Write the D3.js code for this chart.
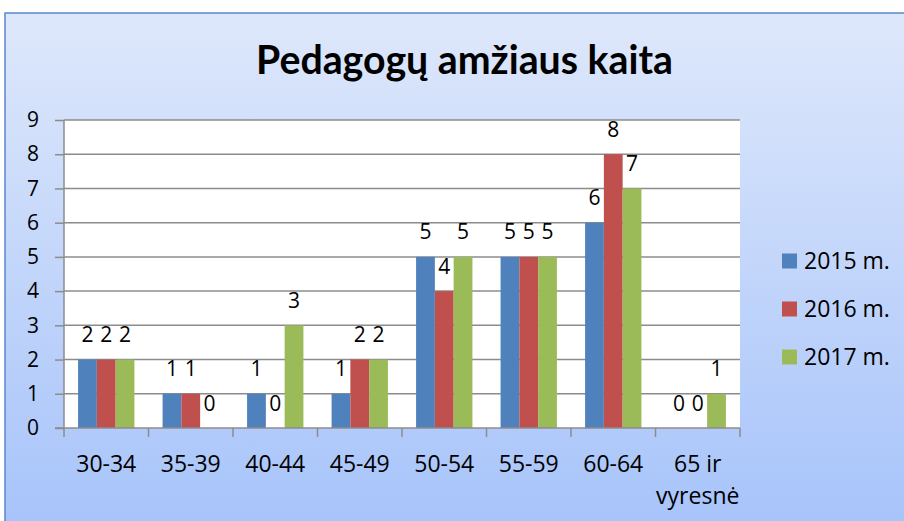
<!DOCTYPE html>
<html><head><meta charset="utf-8">
<script src="https://cdn.jsdelivr.net/npm/d3@7"></script>
<style>html,body{margin:0;padding:0;background:#fff;}svg{display:block;font-family:"Open Sans",Lato,sans-serif;}</style>
</head><body>
<script>
const title = "Pedagogų amžiaus kaita";
const categories = ["30-34","35-39","40-44","45-49","50-54","55-59","60-64","65 ir vyresnė"];
const seriesNames = ["2015 m.","2016 m.","2017 m."];
const values2015 = [2,1,1,1,5,5,6,0];
const values2016 = [2,1,0,2,4,5,8,0];
const values2017 = [2,0,3,2,5,5,7,1];
const seriesColors = ["#4F81BD","#C0504D","#9BBB59"];
const yTicks = [0,1,2,3,4,5,6,7,8,9];

const W = 904, H = 521;
const svg = d3.select("body").append("svg").attr("width", W).attr("height", H);
const defs = svg.append("defs");
const grad = defs.append("linearGradient").attr("id","bg").attr("x1",0).attr("y1",0).attr("x2",0).attr("y2",1);
grad.append("stop").attr("offset","0%").attr("stop-color","#DEE8FB");
grad.append("stop").attr("offset","100%").attr("stop-color","#A6C3FA");
svg.append("rect").attr("x",5).attr("y",13).attr("width",W).attr("height",H)
  .attr("fill","url(#bg)").attr("stroke","#5B87CC").attr("stroke-width",1.5);

const plot = {l:64, t:120, r:740, b:428};
const x0 = d3.scaleBand().domain(categories).range([plot.l, plot.r]).paddingInner(0).paddingOuter(0);
// Excel gap width 150%: bars fill 3/(3+1.5) of band
const barW = x0.bandwidth()/4.5;
const y = d3.scaleLinear().domain([0,9]).range([plot.b, plot.t]);

svg.append("rect").attr("x",plot.l).attr("y",plot.t).attr("width",plot.r-plot.l).attr("height",plot.b-plot.t).attr("fill","#fff");

// gridlines
svg.append("g").selectAll("line").data(yTicks.filter(d=>d>0)).join("line")
  .attr("x1",plot.l).attr("x2",plot.r).attr("y1",d=>y(d)).attr("y2",d=>y(d))
  .attr("stroke","#8C8C8C").attr("stroke-width",1.5);

const data = [values2015, values2016, values2017];
const gBars = svg.append("g");
data.forEach((vals, si) => {
  categories.forEach((c, ci) => {
    const bx = x0(c) + barW*0.75 + si*barW;
    const v = vals[ci];
    gBars.append("rect").attr("x",bx).attr("y",y(v)).attr("width",barW).attr("height",y(0)-y(v))
      .attr("fill",seriesColors[si]);
    gBars.append("text").attr("x",bx+barW/2).attr("y",y(v)-17.5).attr("text-anchor","middle")
      .attr("font-size",21).attr("fill","#000").text(v);
  });
});

// y axis
const yAxis = d3.axisLeft(y).tickValues(yTicks).tickSize(9).tickPadding(16).tickFormat(d3.format("d"));
const gy = svg.append("g").attr("transform",`translate(${plot.l},0)`).call(yAxis);
gy.select(".domain").attr("stroke","#8C8C8C").attr("stroke-width",1.5).attr("d",`M0,${plot.t}V${plot.b}`);
gy.selectAll(".tick line").attr("stroke","#8C8C8C").attr("stroke-width",1.5);
gy.selectAll(".tick text").attr("font-size",21).attr("font-family","Open Sans").attr("fill","#000");

// x axis
svg.append("line").attr("x1",plot.l-9).attr("x2",plot.r).attr("y1",plot.b).attr("y2",plot.b).attr("stroke","#8C8C8C").attr("stroke-width",1.5);
const bounds = categories.map(c=>x0(c)).concat([plot.r]);
svg.append("g").selectAll("line").data(bounds).join("line")
  .attr("x1",d=>d).attr("x2",d=>d).attr("y1",plot.b).attr("y2",plot.b+9).attr("stroke","#8C8C8C").attr("stroke-width",1.5);
const gx = svg.append("g");
categories.forEach(c => {
  const words = c === "65 ir vyresnė" ? ["65 ir","vyresnė"] : [c];
  words.forEach((w,i)=>{
    gx.append("text").attr("x",x0(c)+x0.bandwidth()/2).attr("y",472+i*32).attr("text-anchor","middle")
      .attr("font-size",23).text(w);
  });
});

// title
const t = svg.append("text").attr("x",(256+673)/2).attr("y",74).attr("text-anchor","middle")
  .attr("font-family","Lato").attr("font-size",35).attr("font-weight","bold").text(title);
const tw = t.node().getComputedTextLength();
t.attr("font-size", 35*417/tw);

// legend
const lg = svg.append("g");
seriesNames.forEach((s,i)=>{
  const ly = 261 + i*48;
  lg.append("rect").attr("x",782).attr("y",ly-7.5).attr("width",15).attr("height",15).attr("fill",seriesColors[i]);
  lg.append("text").attr("x",804).attr("y",ly+8).attr("font-size",23).text(s);
});
</script>
</body></html>
